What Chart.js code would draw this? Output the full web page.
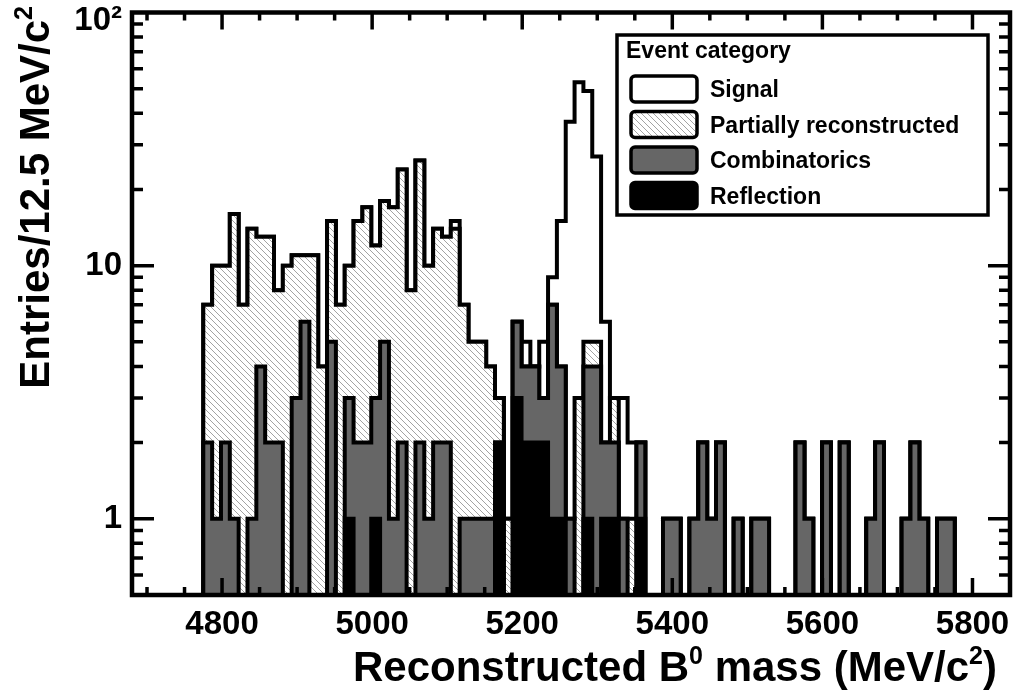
<!DOCTYPE html>
<html>
<head>
<meta charset="utf-8">
<script src="https://cdn.jsdelivr.net/npm/chart.js@4.4.1/dist/chart.umd.min.js"></script>
<style>
  html, body { margin: 0; padding: 0; background: #fff; }
  #wrap { width: 1016px; height: 694px; }
</style>
</head>
<body>
<div id="wrap"><canvas id="massChart" width="1016" height="694"></canvas></div>
<script>
// binning as it sits on the picture: 85 bins starting at 4775
const binLow = 4775;
const binWidth = 11.78;

// entries per bin, one list per event category
const signal = [
  0,0,0,0,0,0,0,0,0,0,
  0,0,0,0,0,0,0,0,0,0,
  0,0,0,0,0,0,0,0,1,0,
  0,0,0,0,0,0,1,0,2,2,
  11,36,50,44,22,4,0,2,1,0,
  0,0,0,0,0,0,0,0,0,0,
  0,0,0,0,0,0,0,0,0,0,
  0,0,0,0,0,0,0,0,0,0,
  0,0,0,0,0
];
const partial = [
  5,9,8,15,7,13,9,11,6,10,
  8,5,11,4,10,7,7,13,15,9,
  13,16,22,8,24,9,12,11,14,6,
  4,4,3,1,1,0,0,0,0,0,
  0,0,3,1,1,0,1,0,1,0,
  0,0,0,0,0,0,0,0,0,0,
  0,0,0,0,0,0,0,0,0,0,
  0,0,0,0,0,0,0,0,0,0,
  0,0,0,0,0
];
const combinatorics = [
  2,1,2,1,0,1,4,2,2,0,
  3,6,0,0,5,0,2,2,2,2,
  5,1,2,0,2,1,2,2,0,1,
  1,1,1,0,0,3,2,2,1,6,
  3,1,0,3,4,1,1,1,0,1,
  0,0,1,1,0,1,2,1,2,0,
  1,0,1,1,0,0,0,2,1,0,
  2,0,2,0,0,1,2,0,0,1,
  2,1,0,1,1
];
const reflection = [
  0,0,0,0,0,0,0,0,0,0,
  0,0,0,0,0,0,1,0,0,1,
  0,0,0,0,0,0,0,0,0,0,
  0,0,0,2,0,3,2,2,2,1,
  1,0,0,1,0,1,1,0,0,1,
  0,0,0,0,0,0,0,0,0,0,
  0,0,0,0,0,0,0,0,0,0,
  0,0,0,0,0,0,0,0,0,0,
  0,0,0,0,0
];

const categories = ['Signal', 'Partially reconstructed', 'Combinatorics', 'Reflection'];
const xTickValues = [4800, 5000, 5200, 5400, 5600, 5800];
const yTickValues = [1, 10, 100];
const yTickText = ['1', '10', ['', '10\u00B2']];

const FONT = '"Liberation Sans", Arial, Helvetica, sans-serif';
const FLOOR = 0.3; // empty bins drop below the frame

// stacked levels, like a THStack
function addUp(a, b) { return a.map((v, i) => v + b[i]); }
const lvlReflection = reflection.slice();
const lvlComb = addUp(lvlReflection, combinatorics);
const lvlPartial = addUp(lvlComb, partial);
const lvlTotal = addUp(lvlPartial, signal);

function stepPoints(values) {
  const pts = [{ x: binLow, y: FLOOR }];
  values.forEach((v, i) => pts.push({ x: binLow + i * binWidth, y: v > 0 ? v : FLOOR }));
  pts.push({ x: binLow + values.length * binWidth, y: FLOOR });
  return pts;
}

// hatch for the partially reconstructed component
const tile = document.createElement('canvas');
tile.width = 6; tile.height = 6;
const tctx = tile.getContext('2d');
tctx.fillStyle = '#fff';
tctx.fillRect(0, 0, 6, 6);
tctx.strokeStyle = '#8c8c8c';
tctx.lineWidth = 0.8;
tctx.beginPath();
tctx.moveTo(-1, -1); tctx.lineTo(7, 7);
tctx.moveTo(-1, 5); tctx.lineTo(1, 7);
tctx.moveTo(5, -1); tctx.lineTo(7, 1);
tctx.stroke();
const hatch = tctx.createPattern(tile, 'repeat');

function histo(label, values, fillColor, order) {
  return {
    label: label,
    data: stepPoints(values),
    stepped: 'before',
    borderColor: '#000',
    borderWidth: 4,
    borderJoinStyle: 'miter',
    backgroundColor: fillColor,
    fill: 'start',
    pointRadius: 0,
    pointHoverRadius: 0,
    tension: 0,
    order: order
  };
}

// frame and inward ticks, ROOT style
const frameTicks = {
  id: 'frameTicks',
  afterDatasetsDraw(chart) {
    const { ctx, chartArea: a, scales: { x, y } } = chart;
    ctx.save();
    ctx.strokeStyle = '#000';
    ctx.lineWidth = 3.5;
    ctx.beginPath();
    for (let v = 4700; v <= 5850; v += 50) {
      const px = x.getPixelForValue(v);
      const len = v % 200 === 0 ? 17 : 8;
      ctx.moveTo(px, a.bottom); ctx.lineTo(px, a.bottom - len);
      ctx.moveTo(px, a.top); ctx.lineTo(px, a.top + len);
    }
    [0.1, 1, 10].forEach(dec => {
      for (let m = 1; m <= 9; m++) {
        const v = m * dec;
        if (v < 0.5 || v > 100) continue;
        const py = y.getPixelForValue(v);
        const len = m === 1 ? 22 : 11;
        ctx.moveTo(a.left, py); ctx.lineTo(a.left + len, py);
        ctx.moveTo(a.right, py); ctx.lineTo(a.right - len, py);
      }
    });
    ctx.stroke();
    ctx.lineWidth = 4.5;
    ctx.strokeRect(a.left, a.top, a.right - a.left, a.bottom - a.top);
    ctx.restore();
  }
};

// text with superscripts
function richWidth(ctx, parts) {
  let w = 0;
  parts.forEach(p => {
    ctx.font = p.sup ? 'bold 25px ' + FONT : 'bold 42px ' + FONT;
    w += ctx.measureText(p.t).width;
  });
  return w;
}
function drawRich(ctx, parts, x0, y0) {
  let x = x0;
  parts.forEach(p => {
    ctx.font = p.sup ? 'bold 25px ' + FONT : 'bold 42px ' + FONT;
    ctx.fillText(p.t, x, p.sup ? y0 - 17 : y0);
    x += ctx.measureText(p.t).width;
  });
}

const titles = {
  id: 'titles',
  afterDraw(chart) {
    const ctx = chart.ctx;
    ctx.save();
    ctx.fillStyle = '#000';
    ctx.textBaseline = 'alphabetic';
    ctx.textAlign = 'left';
    const xParts = [{ t: 'Reconstructed B' }, { t: '0', sup: true }, { t: ' mass (MeV/c' }, { t: '2', sup: true }, { t: ')' }];
    const xw = richWidth(ctx, xParts);
    drawRich(ctx, xParts, 997 - xw, 681);

    const yParts = [{ t: 'Entries/12.5 MeV/c' }, { t: '2', sup: true }];
    const yw = richWidth(ctx, yParts);
    ctx.translate(49, 0);
    ctx.rotate(-Math.PI / 2);
    drawRich(ctx, yParts, -6 - yw, 0);
    ctx.restore();
  }
};

// legend box in the upper right
const legendBox = {
  id: 'legendBox',
  afterDraw(chart) {
    const ctx = chart.ctx;
    ctx.save();
    ctx.fillStyle = '#fff';
    ctx.fillRect(617, 35, 371, 180);
    ctx.strokeStyle = '#000';
    ctx.lineWidth = 3.5;
    ctx.strokeRect(617, 35, 371, 180);
    ctx.fillStyle = '#000';
    ctx.font = 'bold 23px ' + FONT;
    ctx.textBaseline = 'alphabetic';
    ctx.fillText('Event category', 626, 58);
    const tops = [76, 111.5, 147, 182.5];
    categories.forEach((name, i) => {
      const ds = chart.data.datasets[i];
      ctx.beginPath();
      ctx.roundRect(631, tops[i], 66, 26, 4);
      ctx.fillStyle = ds.backgroundColor;
      ctx.fill();
      ctx.lineWidth = 3.5;
      ctx.strokeStyle = '#000';
      ctx.stroke();
      ctx.fillStyle = '#000';
      ctx.font = 'bold 23px ' + FONT;
      ctx.fillText(name, 710, tops[i] + 21);
    });
    ctx.restore();
  }
};

new Chart(document.getElementById('massChart'), {
  type: 'line',
  data: {
    datasets: [
      histo(categories[0], lvlTotal, '#ffffff', 4),
      histo(categories[1], lvlPartial, hatch, 3),
      histo(categories[2], lvlComb, '#666666', 2),
      histo(categories[3], lvlReflection, '#000000', 1)
    ]
  },
  options: {
    responsive: false,
    devicePixelRatio: 1,
    animation: false,
    spanGaps: false,
    layout: { padding: { top: 12.5, right: 6, bottom: 0, left: 0 } },
    plugins: {
      legend: { display: false },
      tooltip: { enabled: false },
      filler: { drawTime: 'beforeDatasetDraw' }
    },
    scales: {
      x: {
        type: 'linear',
        min: 4680,
        max: 5850,
        grid: { display: false, drawTicks: false },
        border: { display: false },
        afterBuildTicks: s => { s.ticks = xTickValues.map(v => ({ value: v })); },
        afterFit: s => { s.height = 99; s.paddingLeft = 0; s.paddingRight = 0; },
        ticks: {
          padding: 10,
          maxRotation: 0,
          autoSkip: false,
          color: '#000',
          font: { family: FONT, size: 33, weight: 'bold' },
          callback: v => String(v)
        }
      },
      y: {
        type: 'logarithmic',
        min: 0.5,
        max: 100,
        grid: { display: false, drawTicks: false },
        border: { display: false },
        afterBuildTicks: s => { s.ticks = yTickValues.map(v => ({ value: v })); },
        afterFit: s => { s.width = 132; s.paddingTop = 0; s.paddingBottom = 0; },
        ticks: {
          padding: 10,
          autoSkip: false,
          color: '#000',
          font: { family: FONT, size: 33, weight: 'bold', lineHeight: 0.5 },
          callback: v => yTickText[yTickValues.indexOf(v)]
        }
      }
    }
  },
  plugins: [frameTicks, titles, legendBox]
});
</script>
</body>
</html>
